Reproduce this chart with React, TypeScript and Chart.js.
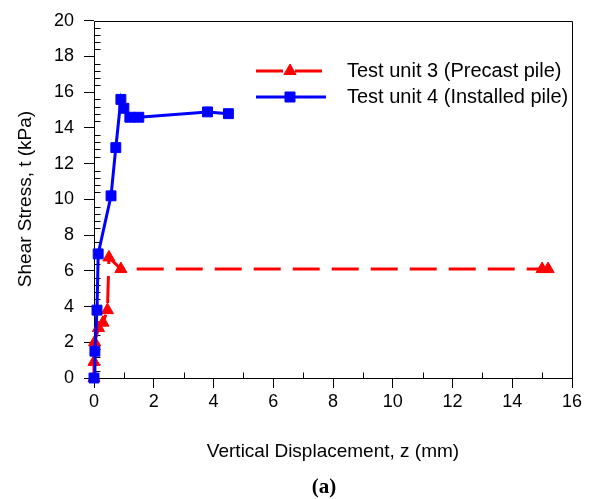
import React, { useEffect, useRef } from "react";
import { Chart, registerables } from "chart.js";

Chart.register(...registerables);

// Test unit 3 (Precast pile)
const unit3X = [0, 0.0, 0.02, 0.15, 0.3, 0.45, 0.5, 0.9, 15.0, 15.2];
const unit3Y = [0, 0.9, 2.0, 2.8, 3.1, 3.8, 6.75, 6.1, 6.1, 6.1];
// Test unit 4 (Installed pile)
const unit4X = [0, 0.03, 0.1, 0.14, 0.57, 0.73, 0.9, 1.0, 1.2, 1.5, 3.8, 4.5];
const unit4Y = [0, 1.5, 3.8, 6.95, 10.2, 12.9, 15.6, 15.1, 14.6, 14.6, 14.9, 14.8];

const seriesNames = ["Test unit 3 (Precast pile)", "Test unit 4 (Installed pile)"];
const xTitle = "Vertical Displacement, z (mm)";
const yTitle = "Shear Stress, t (kPa)";
const caption = "(a)";

const FONT = "'Liberation Sans', Arial, sans-serif";
const RED = "#ff0000";
const BLUE = "#0000ff";

const decorPlugin = {
  id: "decor",
  beforeDatasetsDraw(chart: any) {
    const { ctx, chartArea: a, scales } = chart;
    const xs = scales.x;
    const ys = scales.y;
    const L = Math.round(a.left) + 0.5;
    const R = Math.round(a.right) + 0.5;
    const T = Math.round(a.top) + 0.5;
    const B = Math.round(a.bottom) + 0.5;
    ctx.save();
    ctx.strokeStyle = "#000";
    ctx.lineWidth = 1;
    ctx.beginPath();
    ctx.rect(L, T, R - L, B - T);
    ctx.stroke();
    // y minor ticks (inside)
    ctx.beginPath();
    for (let i = 0; i <= 50; i++) {
      if (i % 5 === 0) continue;
      const py = Math.round(ys.getPixelForValue(i * 0.4)) + 0.5;
      ctx.moveTo(L, py);
      ctx.lineTo(L + 6, py);
    }
    // x minor ticks (inside)
    for (let v = 1; v < 16; v += 2) {
      const px = Math.round(xs.getPixelForValue(v)) + 0.5;
      ctx.moveTo(px, B);
      ctx.lineTo(px, B - 6);
    }
    ctx.stroke();
    ctx.restore();
  },
  afterDraw(chart: any) {
    const { ctx, chartArea: a } = chart;
    ctx.save();
    ctx.fillStyle = "#000";
    // axis titles
    ctx.font = `19px ${FONT}`;
    ctx.textAlign = "center";
    ctx.textBaseline = "alphabetic";
    ctx.fillText(xTitle, (a.left + a.right) / 2, 457);
    ctx.save();
    ctx.translate(31, 199);
    ctx.rotate(-Math.PI / 2);
    ctx.fillText(yTitle, 0, 0);
    ctx.restore();
    // caption
    ctx.font = `bold 21px 'Liberation Serif', 'Times New Roman', serif`;
    ctx.fillText(caption, 324, 493);

    // legend
    const items = [
      { color: RED, dash: [27, 12], shape: "triangle", y: 71, text: seriesNames[0], x2: 322 },
      { color: BLUE, dash: [], shape: "rect", y: 97, text: seriesNames[1], x2: 326 },
    ];
    items.forEach((it) => {
      ctx.strokeStyle = it.color;
      ctx.fillStyle = it.color;
      ctx.lineWidth = 3;
      ctx.setLineDash(it.dash);
      ctx.beginPath();
      ctx.moveTo(256, it.y);
      ctx.lineTo(it.x2, it.y);
      ctx.stroke();
      ctx.setLineDash([]);
      const cx = 290;
      ctx.lineWidth = 1;
      ctx.beginPath();
      if (it.shape === "triangle") {
        const r = 7;
        ctx.moveTo(cx, it.y - r);
        ctx.lineTo(cx + r * Math.sin((2 * Math.PI) / 3), it.y - r * Math.cos((2 * Math.PI) / 3));
        ctx.lineTo(cx + r * Math.sin((4 * Math.PI) / 3), it.y - r * Math.cos((4 * Math.PI) / 3));
        ctx.closePath();
      } else {
        const s = 5;
        ctx.rect(cx - s, it.y - s, 2 * s, 2 * s);
      }
      ctx.fill();
      ctx.stroke();
      ctx.fillStyle = "#000";
      ctx.font = `20px ${FONT}`;
      ctx.textAlign = "left";
      ctx.textBaseline = "alphabetic";
      ctx.fillText(it.text, 347, it.y + 6);
    });
    ctx.restore();
  },
};

export default function App() {
  const ref = useRef<HTMLCanvasElement | null>(null);

  useEffect(() => {
    if (!ref.current) return;
    const chart = new Chart(ref.current, {
      type: "line",
      data: {
        datasets: [
          {
            label: seriesNames[0],
            data: unit3X.map((x, i) => ({ x, y: unit3Y[i] })),
            borderColor: RED,
            backgroundColor: RED,
            borderWidth: 3,
            borderDash: [27, 12],
            pointStyle: "triangle",
            pointRadius: 7,
            pointBorderWidth: 1,
            pointBackgroundColor: RED,
            pointBorderColor: RED,
            tension: 0,
            clip: false,
            order: 2,
          } as any,
          {
            label: seriesNames[1],
            data: unit4X.map((x, i) => ({ x, y: unit4Y[i] })),
            borderColor: BLUE,
            backgroundColor: BLUE,
            borderWidth: 3,
            pointStyle: "rect",
            pointRadius: 7,
            pointBorderWidth: 1,
            pointBackgroundColor: BLUE,
            pointBorderColor: BLUE,
            tension: 0,
            clip: false,
            order: 1,
          } as any,
        ],
      },
      options: {
        responsive: false,
        animation: false,
        devicePixelRatio: 1,
        layout: { padding: { left: 0, top: 19, right: 36, bottom: 0 } },
        plugins: {
          legend: { display: false },
          tooltip: { enabled: false },
        },
        scales: {
          x: {
            type: "linear",
            min: 0,
            max: 16,
            ticks: { stepSize: 2, color: "#000", padding: 3, font: { family: FONT, size: 18 } },
            grid: { display: true, drawOnChartArea: false, drawTicks: true, tickLength: 10, color: "#000" },
            border: { display: false },
            afterFit: (s: any) => {
              s.height = 121;
            },
          },
          y: {
            type: "linear",
            min: 0,
            max: 20,
            ticks: { stepSize: 2, color: "#000", padding: 10, font: { family: FONT, size: 18 } },
            grid: { display: true, drawOnChartArea: false, drawTicks: true, tickLength: 10, color: "#000" },
            border: { display: false },
            afterFit: (s: any) => {
              s.width = 94;
            },
          },
        },
      },
      plugins: [decorPlugin],
    });
    return () => chart.destroy();
  }, []);

  return (
    <div style={{ position: "fixed", left: 0, top: 0, width: 608, height: 499, background: "#fff" }}>
      <canvas ref={ref} width={608} height={499} />
    </div>
  );
}
